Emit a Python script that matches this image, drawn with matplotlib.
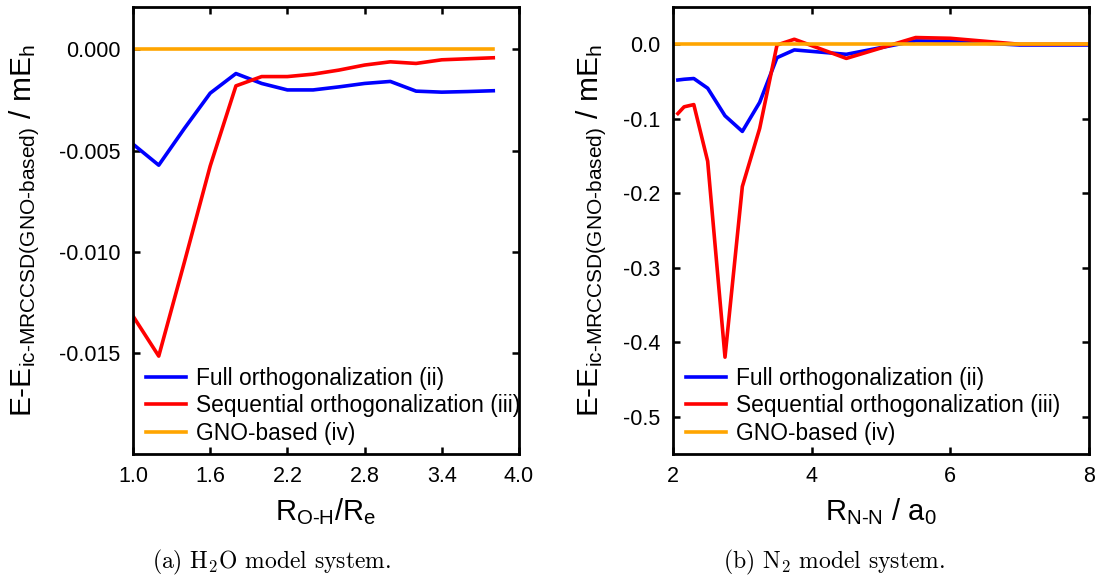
import matplotlib
matplotlib.use("Agg")
import matplotlib.pyplot as plt
import numpy as np

plt.rcParams['font.family'] = ['Liberation Sans', 'DejaVu Sans']
plt.rcParams['mathtext.fontset'] = 'custom'
plt.rcParams['mathtext.rm'] = 'Liberation Sans'
plt.rcParams['mathtext.it'] = 'Liberation Sans:italic'
plt.rcParams['mathtext.bf'] = 'Liberation Sans:bold'

# H2O model system
r_oh = [1.0, 1.2, 1.4, 1.6, 1.8, 2.0, 2.2, 2.4, 2.6, 2.8, 3.0, 3.2, 3.4, 3.6, 3.8]
h2o_full = [-0.00468, -0.00572, -0.0039, -0.00216, -0.00119, -0.00168, -0.0020, -0.0020,
            -0.00185, -0.00168, -0.00158, -0.00206, -0.00211, -0.00208, -0.00204]
h2o_seq = [-0.01318, -0.01516, -0.0105, -0.00576, -0.0018, -0.00134, -0.00134, -0.00122,
           -0.00102, -0.00077, -0.00061, -0.00069, -0.00051, -0.00046, -0.00041]
h2o_gno = [0.0] * len(r_oh)

# N2 model system
r_nn = [2.07, 2.16, 2.3, 2.5, 2.75, 3.0, 3.25, 3.5, 3.75, 4.5, 5.5, 6.0, 7.0, 8.0]
n2_full = [-0.048, -0.047, -0.046, -0.059, -0.096, -0.117, -0.078, -0.018, -0.0076,
           -0.0135, 0.0045, 0.004, -0.001, -0.001]
n2_seq = [-0.093, -0.084, -0.081, -0.157, -0.42, -0.191, -0.113, -0.001, 0.0067,
          -0.019, 0.009, 0.008, 0.0, 0.0]
n2_gno_x = [2.0, 8.0]
n2_gno = [0.0, 0.0]

labels = ["Full orthogonalization (ii)", "Sequential orthogonalization (iii)", "GNO-based (iv)"]
colors = ["#0000ff", "#ff0000", "#ffa500"]

fig = plt.figure(figsize=(10.97, 5.77), dpi=100)
ax1 = fig.add_axes([133/1097, 1 - 454/577, 386/1097, 447/577])
ax2 = fig.add_axes([673/1097, 1 - 454/577, 416/1097, 447/577])

lw = 2.6
ax1.plot(r_oh, h2o_full, color=colors[0], lw=lw, label=labels[0])
ax1.plot(r_oh, h2o_seq, color=colors[1], lw=lw, label=labels[1])
ax1.plot(r_oh, h2o_gno, color=colors[2], lw=lw, label=labels[2])

ax2.plot(r_nn, n2_full, color=colors[0], lw=lw, label=labels[0])
ax2.plot(r_nn, n2_seq, color=colors[1], lw=lw, label=labels[1])
ax2.plot(n2_gno_x, n2_gno, color=colors[2], lw=lw, label=labels[2])

ax1.set_xlim(1.0, 4.0)
ax1.set_ylim(-0.020, 0.0021)
ax1.set_xticks([1.0, 1.6, 2.2, 2.8, 3.4, 4.0])
ax1.set_xticklabels(["1.0", "1.6", "2.2", "2.8", "3.4", "4.0"])
ax1.set_yticks([0.0, -0.005, -0.010, -0.015])
ax1.set_yticklabels(["0.000", "-0.005", "-0.010", "-0.015"])

ax2.set_xlim(2, 8)
ax2.set_ylim(-0.55, 0.05)
ax2.set_xticks([2, 4, 6, 8])
ax2.set_yticks([0.0, -0.1, -0.2, -0.3, -0.4, -0.5])
ax2.set_yticklabels(["0.0", "-0.1", "-0.2", "-0.3", "-0.4", "-0.5"])

ylab = r"E-E$_{\text{ic-MRCCSD(GNO-based)}}$ / mE$_{\text{h}}$"
for ax in (ax1, ax2):
    for s in ax.spines.values():
        s.set_linewidth(2.0)
    ax.tick_params(direction='in', length=5, width=1.8, labelsize=15.5, pad=9,
                   top=True, right=True)
    ax.set_ylabel(ylab, fontsize=21.5)
    ax.legend(loc='lower left', bbox_to_anchor=(0.01, 0.0), frameon=False,
              fontsize=16.4, handlelength=1.75, handletextpad=0.44,
              labelspacing=0.2, borderaxespad=0.0)

ax1.set_xlabel(r"R$_{\text{O-H}}$/R$_{\text{e}}$", fontsize=21, labelpad=6)
ax2.set_xlabel(r"R$_{\text{N-N}}$ / a$_{\text{0}}$", fontsize=21, labelpad=6)
ax1.yaxis.set_label_coords(-0.235, 0.5)
ax2.yaxis.set_label_coords(-0.155, 0.5)

fig.text(272/1097, 1 - 562/577, r"(a) H$_2$O model system.", ha='center', va='center',
         fontsize=17, fontfamily='cmr10', math_fontfamily='cm')
fig.text(834/1097, 1 - 562/577, r"(b) N$_2$ model system.", ha='center', va='center',
         fontsize=17, fontfamily='cmr10', math_fontfamily='cm')

fig.savefig("out.png", dpi=100)
